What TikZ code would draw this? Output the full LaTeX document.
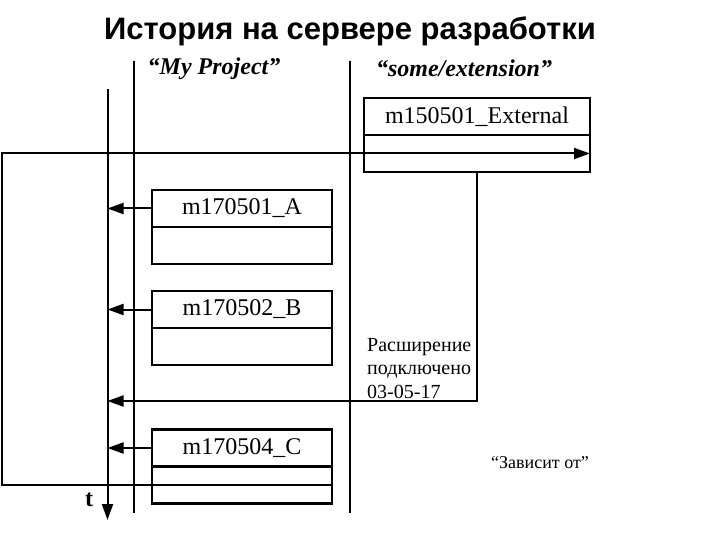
\documentclass[tikz,border=0pt]{standalone}
\usepackage{fontspec}
\setmainfont{Liberation Serif}
\newfontfamily\headfont{Liberation Sans}
\usetikzlibrary{positioning,arrows.meta}

\tikzset{
  part/.style={draw, line width=2.2pt, outer sep=0pt, inner sep=2pt,
    minimum width=180pt, minimum height=37pt, font=\fontsize{24}{28}\selectfont},
  lane/.style={line width=2pt},
  link/.style={line width=2pt, -{Triangle[length=16pt,width=11pt]}},
  lanelabel/.style={font=\fontsize{24}{28}\selectfont\bfseries\itshape},
}

\begin{document}
\begin{tikzpicture}[x=1pt,y=-1pt]
\useasboundingbox (0,0) rectangle (720,540);
\node[font=\headfont\fontsize{31}{35}\selectfont\bfseries, anchor=base] (title) at (350,40) {История на сервере разработки};
\node[lanelabel] (proj) at (214,69) {“My Project”};
\node[lanelabel] (extn) at (464,68) {“some/extension”};

% time axis and the two lanes
\coordinate (t-top) at (107.5,89);
\coordinate (t-end) at (107.5,520);
\coordinate (p-top) at (133.5,61);
\coordinate (p-end) at (133.5,513);
\coordinate (e-top) at (349.5,61);
\coordinate (e-end) at (349.5,513);
\coordinate (edge) at (1.5,0);
\draw[link] (t-top) -- (t-end);
\draw[lane] (p-top) -- (p-end);
\draw[lane] (e-top) -- (e-end);
\node[font=\fontsize{24}{28}\selectfont\bfseries, anchor=base] (t) at (89,506) {t};

% migrations
\node[part, minimum width=226pt] (ext) at (477,116.5) {m150501\_External};
\node[part, minimum width=226pt, below=0pt of ext] (ext-low) {};
\node[part] (a) at (242,208.5) {m170501\_A};
\node[part, below=0pt of a] (a-low) {};
\node[part] (b) at (242,309.5) {m170502\_B};
\node[part, below=0pt of b] (b-low) {};
\node[part] (c) at (242,448) {m170504\_C};
\node[part, below=0pt of c] (c-low) {};

\draw[link] (a.west) -- (a.west -| t-top);
\draw[link] (b.west) -- (b.west -| t-top);
\draw[link] (c.west) -- (c.west -| t-top);

% extension plugged in
\coordinate (plugged) at (477,401);
\draw[link] (ext-low.south) -- (plugged) -- (plugged -| t-top);
\node[anchor=north west, align=left, inner sep=0pt, font=\fontsize{20}{23.5}\selectfont] (plug-note) at (367,338) {Расширение\\подключено\\03-05-17};

% depends on
\draw[link] (c-low.east) -- (c-low.east -| edge) |- (ext-low.east);
\node[font=\fontsize{18}{22}\selectfont, anchor=base] (dep) at (540,468) {“Зависит от”};
\end{tikzpicture}
\end{document}
